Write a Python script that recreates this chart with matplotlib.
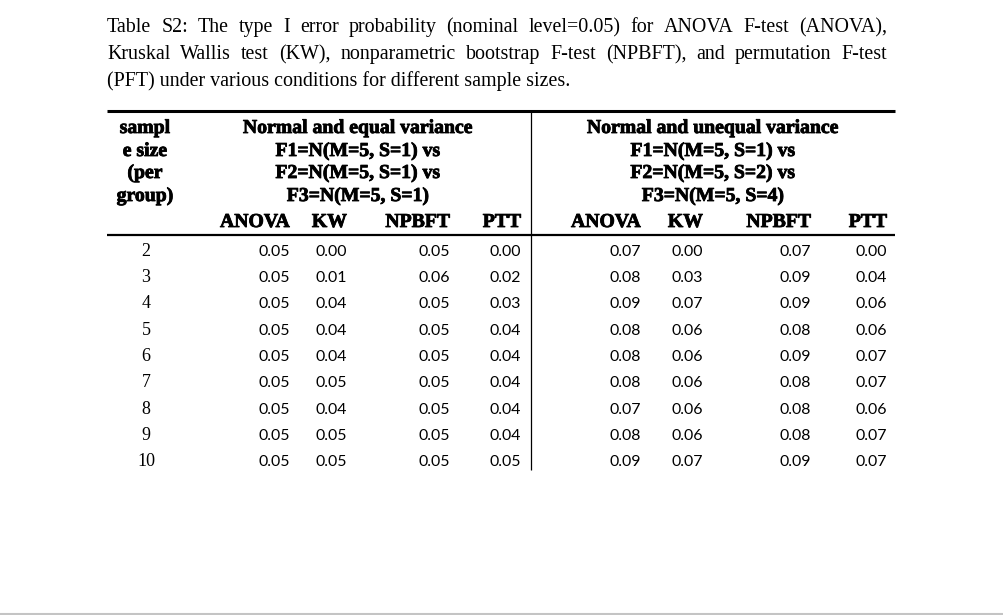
import matplotlib
matplotlib.use("Agg")
import matplotlib.pyplot as plt
import matplotlib.patheffects as pe

# caption and headers
caption_lines = [
    "Table S2: The type I error probability (nominal level=0.05) for ANOVA F-test (ANOVA),",
    "Kruskal Wallis test (KW), nonparametric bootstrap F-test (NPBFT), and permutation F-test",
    "(PFT) under various conditions for different sample sizes.",
]
size_header = ["sampl", "e size", "(per", "group)"]
equal_header = ["Normal and equal variance", "F1=N(M=5, S=1) vs",
                "F2=N(M=5, S=1) vs", "F3=N(M=5, S=1)"]
unequal_header = ["Normal and unequal variance", "F1=N(M=5, S=1) vs",
                  "F2=N(M=5, S=2) vs", "F3=N(M=5, S=4)"]
tests = ["ANOVA", "KW", "NPBFT", "PTT"]

# table values
sample_sizes = [2, 3, 4, 5, 6, 7, 8, 9, 10]
equal_anova = [0.05, 0.05, 0.05, 0.05, 0.05, 0.05, 0.05, 0.05, 0.05]
equal_kw = [0.00, 0.01, 0.04, 0.04, 0.04, 0.05, 0.04, 0.05, 0.05]
equal_npbft = [0.05, 0.06, 0.05, 0.05, 0.05, 0.05, 0.05, 0.05, 0.05]
equal_ptt = [0.00, 0.02, 0.03, 0.04, 0.04, 0.04, 0.04, 0.04, 0.05]
unequal_anova = [0.07, 0.08, 0.09, 0.08, 0.08, 0.08, 0.07, 0.08, 0.09]
unequal_kw = [0.00, 0.03, 0.07, 0.06, 0.06, 0.06, 0.06, 0.06, 0.07]
unequal_npbft = [0.07, 0.09, 0.09, 0.08, 0.09, 0.08, 0.08, 0.08, 0.09]
unequal_ptt = [0.00, 0.04, 0.06, 0.06, 0.07, 0.07, 0.06, 0.07, 0.07]

SERIF = "Liberation Serif"
SANS = "Lato"

fig = plt.figure(figsize=(10.04, 6.15), dpi=100)
ax = fig.add_axes([0, 0, 1, 1])
ax.set_xlim(0, 1004)
ax.set_ylim(615, 0)
ax.axis("off")
renderer = fig.canvas.get_renderer()


def text_width(s, **kw):
    t = ax.text(0, 0, s, **kw)
    w = t.get_window_extent(renderer).width
    t.remove()
    return w


# caption: size fitted to the last (unjustified) line, other lines justified
cap_kw = dict(family=SERIF, fontsize=12)
scale = 462 / text_width(caption_lines[2], **cap_kw)
cap_kw["fontsize"] = 12 * scale
x0, x1 = 107, 887
cap_base = [32, 59, 86]
for i, line in enumerate(caption_lines):
    if i == len(caption_lines) - 1:
        ax.text(x0, cap_base[i], line, ha="left", va="baseline", **cap_kw)
        continue
    words = line.split(" ")
    widths = [text_width(w, **cap_kw) for w in words]
    gap = (x1 - x0 - sum(widths)) / (len(words) - 1)
    x = x0
    for w, wd in zip(words, widths):
        ax.text(x, cap_base[i], w, ha="left", va="baseline", **cap_kw)
        x += wd + gap

# rules
ax.plot([107, 895], [111, 111], color="black", lw=2.2, solid_capstyle="butt")
ax.plot([107, 895], [234.5, 234.5], color="black", lw=1.6, solid_capstyle="butt")
ax.plot([531, 531], [111, 470], color="black", lw=0.9, solid_capstyle="butt")
ax.plot([0, 1004], [614, 614], color="#c4c4c4", lw=1.5)

# header (heavy, wide bold like the source)
heavy = [pe.withStroke(linewidth=0.6, foreground="black")]
hdr_kw = dict(family=SERIF, fontsize=14.2, fontweight="bold", va="baseline",
              path_effects=heavy)
hdr_base = [133, 156, 178, 201]
for y, a, b, c in zip(hdr_base, size_header, equal_header, unequal_header):
    ax.text(145, y, a, ha="center", **hdr_kw)
    ax.text(358, y, b, ha="center", **hdr_kw)
    ax.text(713, y, c, ha="center", **hdr_kw)

left_cols = [290, 347, 450, 521]
right_cols = [641, 703, 811, 887]
for name, xl, xr in zip(tests, left_cols, right_cols):
    ax.text(xl, 227, name, ha="right", **hdr_kw)
    ax.text(xr, 227, name, ha="right", **hdr_kw)

# body
val_kw = dict(family=SANS, fontsize=11.4, va="baseline", ha="right")
left_series = [equal_anova, equal_kw, equal_npbft, equal_ptt]
right_series = [unequal_anova, unequal_kw, unequal_npbft, unequal_ptt]
for i, n in enumerate(sample_sizes):
    y = 256 + i * 26.25
    ax.text(146, y, str(n), family=SERIF, fontsize=13, ha="center", va="baseline")
    for series, x in zip(left_series, left_cols):
        ax.text(x, y, f"{series[i]:.2f}", **val_kw)
    for series, x in zip(right_series, right_cols):
        ax.text(x, y, f"{series[i]:.2f}", **val_kw)

fig.savefig("out.png", dpi=100, facecolor="white")
